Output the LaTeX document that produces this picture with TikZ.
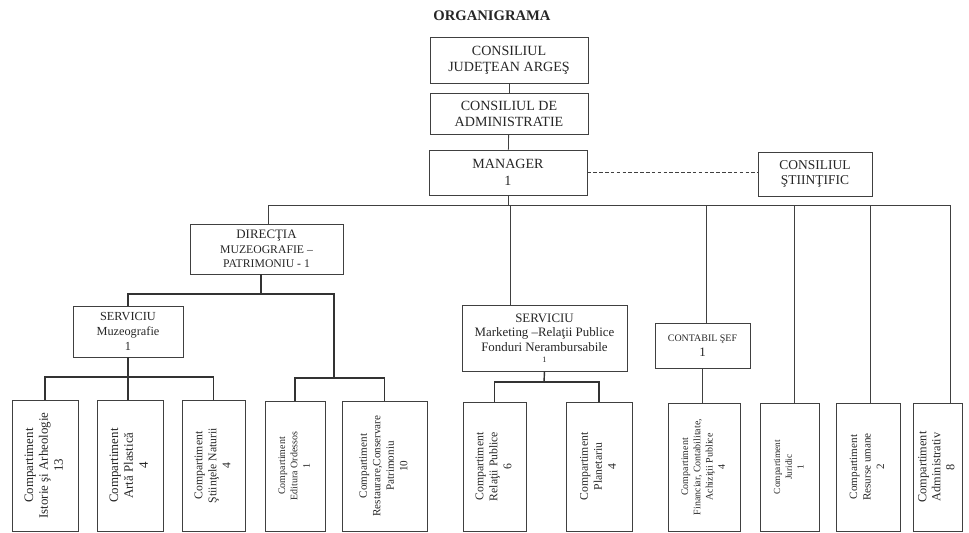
\documentclass[tikz,border=0pt]{standalone}
\usepackage{fontspec}
\setmainfont{Liberation Serif}
\usepackage{graphicx}
\usetikzlibrary{positioning}

\newcommand{\comptext}[3]{\rotatebox{90}{\fontsize{#1}{#2}\selectfont\begin{tabular}{@{}c@{}}#3\end{tabular}}}

\tikzset{
	unit/.style={draw=black!75, line width=0.7pt, inner sep=0pt, align=center, text=black!85},
	cell/.style 2 args={minimum width=#1*0.03cm, minimum height=#2*0.03cm},
	link/.style={draw=black!75, line width=0.7pt},
	bracket/.style={draw=black!80, line width=1.2pt},
	fs/.style 2 args={font=\fontsize{#1}{#2}\selectfont},
}

\begin{document}
\begin{tikzpicture}[x=0.03cm, y=-0.03cm]
	\useasboundingbox (0,0) rectangle (969,533);

	\node[text=black!85, inner sep=0pt, font=\fontsize{12.5}{14}\selectfont\bfseries] (title) at (492,16) {ORGANIGRAMA};

	\node[unit, fs={12}{13.8}, cell={158}{46}] (cja) at (509,60) {CONSILIUL\\JUDEŢEAN ARGEŞ};
	\node[unit, fs={12}{13.8}, cell={158}{41}] (cda) at (509,113.5) {CONSILIUL DE\\ADMINISTRATIE};
	\node[unit, fs={12}{14.5}, cell={158}{45}] (mgr) at (508,172.5) {MANAGER\\1};
	\node[unit, fs={11.5}{13.5}, cell={114}{44}] (cs) at (815,174) {CONSILIUL\\ŞTIINŢIFIC};

	\node[unit, fs={10}{12.5}, cell={153}{50}] (dir) at (266.5,249) {{\fontsize{11}{12.5}\selectfont DIRECŢIA}\\MUZEOGRAFIE --\\PATRIMONIU - 1};
	\node[unit, fs={10.5}{13}, cell={110}{51}] (sm) at (128,331.5) {SERVICIU\\Muzeografie\\1};
	\node[unit, fs={11}{12.5}, cell={165}{66}] (mk) at (544.5,338) {SERVICIU\\Marketing --Relaţii Publice\\Fonduri Nerambursabile\\[-3pt]{\fontsize{7}{8}\selectfont 1}};
	\node[unit, fs={11}{13}, cell={95}{45}] (ctb) at (702.5,345.5) {{\fontsize{8.5}{10}\selectfont CONTABIL ŞEF}\\1};

	% compartimente
	\node[unit, cell={66}{131}] (b1) at (45,465.5) {\comptext{11}{12.8}{Compartiment\\Istorie şi Arheologie\\13}};
	\node[unit, cell={66}{131}] (b2) at (130,465.5) {\comptext{11}{12.8}{Compartiment\\Artă Plastică\\4}};
	\node[unit, cell={63}{131}] (b3) at (213.5,465.5) {\comptext{10}{12}{Compartiment\\Ştiinţele Naturii\\4}};
	\node[unit, cell={60}{130}] (b4) at (295,466) {\comptext{8.5}{10.5}{Compartiment\\Editura Ordessos\\1}};
	\node[unit, cell={85}{130}] (b5) at (384.5,466) {\comptext{9.5}{11.5}{Compartiment\\Restaurare,Conservare\\Patrimoniu\\10}};
	\node[unit, cell={63}{129}] (b6) at (494.5,466.5) {\comptext{10}{12}{Compartiment\\Relaţii Publice\\6}};
	\node[unit, cell={66}{129}] (b7) at (599,466.5) {\comptext{10}{12}{Compartiment\\Planetariu\\4}};
	\node[unit, cell={72}{128}] (b8) at (704,467) {\comptext{8.5}{10.5}{Compartiment\\Financiar, Contabilitate,\\Achiziţii Publice\\4}};
	\node[unit, cell={59}{128}] (b9) at (789.5,467) {\comptext{8}{10}{Compartiment\\Juridic\\1}};
	\node[unit, cell={64}{128}] (b10) at (868,467) {\comptext{9.5}{11.5}{Compartiment\\Resurse umane\\2}};
	\node[unit, cell={49}{128}] (b11) at (937.5,467) {\comptext{10.5}{12}{Compartiment\\Administrativ\\8}};

	\draw[link] (cja) -- (cda);
	\draw[link] (cda) -- (mgr);
	\draw[link, dashed, dash pattern=on 3pt off 2pt] (mgr.east) -- (mgr.east -| cs.west);

	% bara principala
	\coordinate (tDir) at (268,205);
	\coordinate (tMk) at (510,205);
	\coordinate (tCtb) at (706,205);
	\coordinate (tJur) at (794,205);
	\coordinate (tRes) at (870,205);
	\coordinate (tAdm) at (950,205);
	\draw[link] (mgr.south) -- (mgr.south |- tDir);
	\draw[link] (tDir) -- (tAdm);
	\draw[link] (tDir) -- (tDir |- dir.north);
	\draw[link] (tMk) -- (tMk |- mk.north);
	\draw[link] (tCtb) -- (tCtb |- ctb.north);
	\draw[link] (tJur) -- (tJur |- b9.north);
	\draw[link] (tRes) -- (tRes |- b10.north);
	\draw[link] (tAdm) -- (tAdm |- b11.north);
	\draw[link] (ctb.south) -- (ctb.south |- b8.north);

	% directia
	\coordinate (jDir) at (261,294);
	\coordinate (jEd) at (334,378);
	\draw[bracket] (jDir |- dir.south) -- (jDir);
	\draw[bracket] (sm.north) |- (jDir) -| (jEd);
	\draw[bracket] (b4.north) |- (jEd) -| (b5.north);

	\coordinate (jSm) at (129,377);
	\draw[bracket] (sm.south) -- (sm.south |- b2.north);
	\draw[bracket] (b1.north) |- (jSm) -| (b3.north);

	\coordinate (jMk) at (544,382);
	\draw[bracket] (mk.south) -- (jMk);
	\draw[bracket] (b6.north) |- (jMk) -| (b7.north);
\end{tikzpicture}
\end{document}
